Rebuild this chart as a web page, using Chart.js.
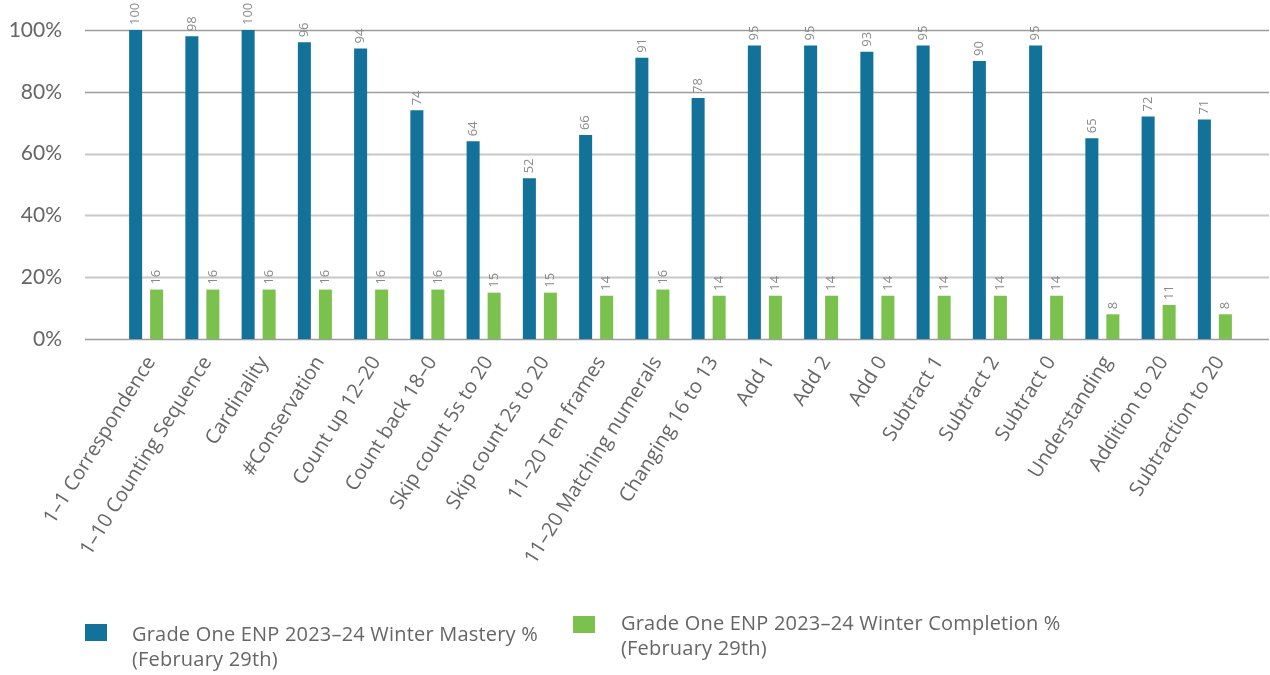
<!DOCTYPE html>
<html>
<head>
<meta charset="utf-8">
<script src="https://cdn.jsdelivr.net/npm/chart.js@4/dist/chart.umd.min.js"></script>
<style>
  html, body { margin: 0; padding: 0; background: #fff; }
  #wrap { position: relative; width: 1270px; height: 675px; }
  #legend .box { position: absolute; width: 22px; height: 17px; }
  #legend .txt {
    position: absolute; white-space: nowrap; letter-spacing: 0.2px;
    font-family: "Open Sans", sans-serif; font-size: 20px; line-height: 25px; color: #666;
  }
</style>
</head>
<body>
<div id="wrap">
  <canvas id="masteryChart" width="1270" height="675"></canvas>
  <div id="legend"></div>
</div>
<script>
const skills = [
  '1–1 Correspondence', '1–10 Counting Sequence', 'Cardinality', '#Conservation',
  'Count up 12–20', 'Count back 18–0', 'Skip count 5s to 20', 'Skip count 2s to 20',
  '11–20 Ten frames', '11–20 Matching numerals', 'Changing 16 to 13', 'Add 1', 'Add 2',
  'Add 0', 'Subtract 1', 'Subtract 2', 'Subtract 0', 'Understanding', 'Addition to 20',
  'Subtraction to 20'
];
const mastery = [100, 98, 100, 96, 94, 74, 64, 52, 66, 91, 78, 95, 95, 93, 95, 90, 95, 65, 72, 71];
const completion = [16, 16, 16, 16, 16, 16, 15, 15, 14, 16, 14, 14, 14, 14, 14, 14, 14, 8, 11, 8];
const yTicks = [0, 20, 40, 60, 80, 100];
const seriesNames = [
  ['Grade One ENP 2023–24 Winter Mastery %', '(February 29th)'],
  ['Grade One ENP 2023–24 Winter Completion %', '(February 29th)']
];
const seriesColors = ['#13729a', '#7bc14e'];

// horizontal rules run a bit wider than the bar area
const gridLines = {
  id: 'gridLines',
  beforeDatasetsDraw(chart) {
    const { ctx, scales: { y } } = chart;
    ctx.save();
    yTicks.forEach(v => {
      const py = Math.round(y.getPixelForValue(v)) + 0.5;
      const soft = v > 0 && v < 80;
      ctx.strokeStyle = soft ? '#c8c8c8' : '#9d9d9d';
      ctx.lineWidth = soft ? 2 : 1.5;
      ctx.beginPath();
      ctx.moveTo(85, py);
      ctx.lineTo(1269, py);
      ctx.stroke();
    });
    ctx.restore();
  }
};

// value labels, turned on their side above each bar
const barValues = {
  id: 'barValues',
  afterDatasetsDraw(chart) {
    const { ctx } = chart;
    ctx.save();
    ctx.font = '13px "Open Sans", sans-serif';
    ctx.fillStyle = '#8a8a8a';
    ctx.textAlign = 'left';
    ctx.textBaseline = 'middle';
    chart.data.datasets.forEach((ds, i) => {
      chart.getDatasetMeta(i).data.forEach((bar, j) => {
        ctx.save();
        ctx.translate(bar.x, bar.y - 5);
        ctx.rotate(-Math.PI / 2);
        ctx.fillText(String(ds.data[j]), 0, 0);
        ctx.restore();
      });
    });
    ctx.restore();
  }
};

new Chart('masteryChart', {
  type: 'bar',
  data: {
    labels: skills,
    datasets: [
      { label: seriesNames[0].join(' '), data: mastery, backgroundColor: seriesColors[0] },
      { label: seriesNames[1].join(' '), data: completion, backgroundColor: seriesColors[1] }
    ]
  },
  options: {
    responsive: false,
    animation: false,
    layout: { padding: { top: 30, right: 27, left: 0, bottom: 0 } },
    categoryPercentage: 0.747,
    barPercentage: 0.62,
    plugins: { legend: { display: false }, tooltip: { enabled: false } },
    scales: {
      x: {
        grid: { display: false, drawTicks: false, tickLength: 0 },
        border: { display: false },
        ticks: {
          minRotation: 58, maxRotation: 58, padding: 13, labelOffset: 5, autoSkip: false,
          color: '#666', font: { family: 'Open Sans', size: 20 }
        },
        afterFit(scale) { scale.height = 336; }
      },
      y: {
        min: 0, max: 100,
        afterBuildTicks(scale) { scale.ticks = yTicks.map(v => ({ value: v })); },
        grid: { display: false, drawTicks: false, tickLength: 0 },
        border: { display: false },
        ticks: {
          padding: 56, color: '#666', font: { family: 'Lato', size: 21 },
          callback: v => v + '%'
        },
        // wide label gap shouldn't push the plot area down
        afterFit(scale) {
          scale.width = 118;
          scale.paddingTop = 0;
          scale.paddingBottom = 0;
        }
      }
    }
  },
  plugins: [gridLines, barValues]
});

// legend below the chart
const legendPos = [{ x: 85, y: 624, tx: 132, ty: 621 }, { x: 573, y: 616, tx: 621, ty: 610 }];
const legend = document.getElementById('legend');
seriesNames.forEach((lines, i) => {
  const p = legendPos[i];
  const box = document.createElement('div');
  box.className = 'box';
  box.style.left = p.x + 'px';
  box.style.top = p.y + 'px';
  box.style.background = seriesColors[i];
  legend.appendChild(box);
  const txt = document.createElement('div');
  txt.className = 'txt';
  txt.style.left = p.tx + 'px';
  txt.style.top = p.ty + 'px';
  txt.innerHTML = lines.join('<br>');
  legend.appendChild(txt);
});
</script>
</body>
</html>
